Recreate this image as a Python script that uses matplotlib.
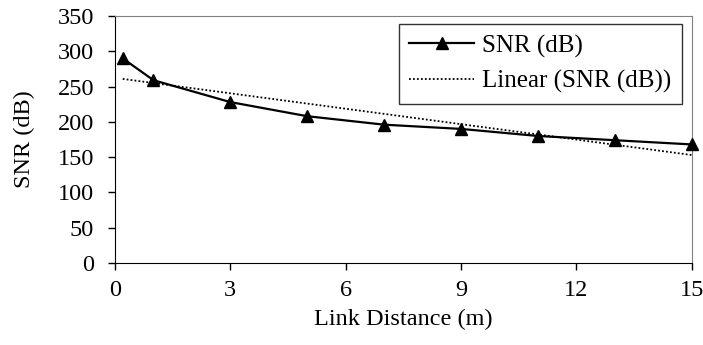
import matplotlib
matplotlib.use('Agg')
import matplotlib.pyplot as plt
import numpy as np

plt.rcParams['font.family'] = ['Liberation Serif', 'DejaVu Serif']

# link distance (m) and SNR (dB)
distance = np.array([0.2, 1, 3, 5, 7, 9, 11, 13, 15])
snr_db = np.array([290, 259, 228, 208, 196, 190, 180, 174, 168])

# excel style linear trend line
slope, intercept = np.polyfit(distance, snr_db, 1)
trend_x = np.array([distance[0], distance[-1]])
trend_y = slope * trend_x + intercept

fig = plt.figure(figsize=(7.03, 3.45), dpi=100)
ax = fig.add_axes([0.1636, 0.2377, 0.8204, 0.7159])

ax.plot(distance, snr_db, color='black', lw=1.6, marker='^', markersize=9,
        label='SNR (dB)', clip_on=False, zorder=3)
ax.plot(trend_x, trend_y, color='black', lw=1.3, ls=(0, (1, 1.2)),
        label='Linear (SNR (dB))')

ax.set_xlim(0, 15)
ax.set_ylim(0, 350)
ax.set_xticks([0, 3, 6, 9, 12, 15])
ax.set_yticks(np.arange(0, 351, 50))
ax.tick_params(labelsize=17.5, direction='out', length=5, width=1)
ax.tick_params(axis='y', pad=10)
ax.tick_params(axis='x', pad=7)
ax.set_xlabel('Link Distance (m)', fontsize=17.5, labelpad=6)
ax.set_ylabel('SNR (dB)', fontsize=17.5, labelpad=16)

for side in ['top', 'right']:
    ax.spines[side].set_color('#808080')
for side in ['left', 'bottom']:
    ax.spines[side].set_color('black')

leg = ax.legend(loc='upper left', fontsize=18, frameon=True, fancybox=False,
                edgecolor='black', borderpad=0.42, handlelength=2.6,
                handletextpad=0.3, labelspacing=0.5, borderaxespad=0,
                bbox_to_anchor=(0.492, 0.968))
leg.get_frame().set_linewidth(1.0)

fig.savefig('out.png', dpi=100)
